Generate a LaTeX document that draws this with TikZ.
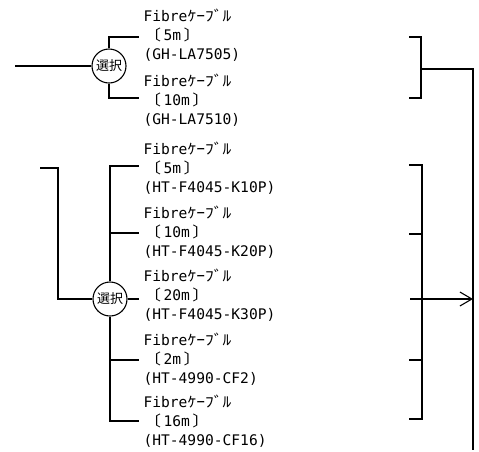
\documentclass[tikz,border=0pt]{standalone}
\usepackage{fontspec}
\setmonofont{DejaVu Sans Mono}
\newfontfamily\jpk[FakeStretch=1.2]{Noto Sans CJK JP}
\newfontfamily\jpsel{Noto Sans CJK JP}
\usetikzlibrary{arrows.meta}
\newcommand\kbl{{\jpk ｹｰﾌﾞﾙ}}
\newcommand\lbr{{\jpk 〔}\hspace{2.5pt}}
\newcommand\rbr{\hspace{2.5pt}{\jpk 〕}}
\begin{document}
\begin{tikzpicture}[x=1pt,y=-1pt,line width=1.1pt,
  txt/.style={anchor=base west,inner sep=0pt,font=\ttfamily\fontsize{14.6}{17}\selectfont},
  sel/.style={circle,draw,minimum size=34pt,inner sep=0pt,font=\jpsel\fontsize{13}{13}\selectfont},
  tip/.style={-{Straight Barb[length=12pt,width=14pt]}}]
\useasboundingbox (0,0) rectangle (479,451);

% ---------- top group ----------
\node[sel] (s1) at (109,66) {選択};
\coordinate (in1) at (15,66);
\coordinate (b1a) at (139,37);
\coordinate (b1b) at (139,98);
\draw (in1) -- (s1.west);
\draw (s1.north) |- (b1a);
\draw (s1.south) |- (b1b);

\node[txt] (t1a1) at (143,21.3) {Fibre\kbl};
\node[txt] (t1a2) at (143,40.3) {\lbr 5m\rbr};
\node[txt] (t1a3) at (143,59.3) {(GH-LA7505)};
\node[txt] (t1b1) at (143,86.3) {Fibre\kbl};
\node[txt] (t1b2) at (143,105.3) {\lbr 10m\rbr};
\node[txt] (t1b3) at (143,124.3) {(GH-LA7510)};

% ---------- bottom group ----------
\node[sel] (s2) at (110,299) {選択};
\coordinate (in2) at (40,168);
\coordinate (cn2) at (58,168);
\draw (in2) -- (cn2) |- (s2.west);
\coordinate (b2a) at (139,166);
\coordinate (b2b) at (139,233);
\coordinate (b2c) at (139,299);
\coordinate (b2d) at (139,360);
\coordinate (b2e) at (139,421);
\coordinate (tr2a) at (110,166);
\coordinate (tr2b) at (110,233);
\coordinate (tr2d) at (110,360);
\coordinate (tr2e) at (110,421);
\draw (s2.north) -- (tr2a) -- (b2a);
\draw (tr2b) -- (b2b);
\draw (s2.east) -- (b2c);
\draw (s2.south) -- (tr2e) -- (b2e);
\draw (tr2d) -- (b2d);

\node[txt] (t2a1) at (143,154.3) {Fibre\kbl};
\node[txt] (t2a2) at (143,173.3) {\lbr 5m\rbr};
\node[txt] (t2a3) at (143,192.3) {(HT-F4045-K10P)};
\node[txt] (t2b1) at (143,218.3) {Fibre\kbl};
\node[txt] (t2b2) at (143,237.3) {\lbr 10m\rbr};
\node[txt] (t2b3) at (143,256.3) {(HT-F4045-K20P)};
\node[txt] (t2c1) at (143,281.3) {Fibre\kbl};
\node[txt] (t2c2) at (143,300.3) {\lbr 20m\rbr};
\node[txt] (t2c3) at (143,319.3) {(HT-F4045-K30P)};
\node[txt] (t2d1) at (143,345.3) {Fibre\kbl};
\node[txt] (t2d2) at (143,364.3) {\lbr 2m\rbr};
\node[txt] (t2d3) at (143,383.3) {(HT-4990-CF2)};
\node[txt] (t2e1) at (143,407.3) {Fibre\kbl};
\node[txt] (t2e2) at (143,426.3) {\lbr 16m\rbr};
\node[txt] (t2e3) at (143,445.3) {(HT-4990-CF16)};

% ---------- right brackets ----------
\coordinate (k1a) at (409,37);
\coordinate (v1a) at (421,37);
\coordinate (v1b) at (421,98);
\coordinate (k1b) at (409,98);
\coordinate (o1) at (421,69);
\coordinate (r1) at (473,69);
\coordinate (r2) at (473,450);
\draw (k1a) -- (v1a) -- (v1b) -- (k1b);
\draw (o1) -- (r1) -- (r2);

\coordinate (k2a) at (409,165);
\coordinate (v2a) at (422,165);
\coordinate (v2e) at (422,419);
\coordinate (k2e) at (409,419);
\coordinate (k2b) at (409,234);
\coordinate (v2b) at (422,234);
\coordinate (k2d) at (409,360);
\coordinate (v2d) at (422,360);
\coordinate (k2c) at (410,299);
\coordinate (a2) at (473,299);
\draw (k2a) -- (v2a) -- (v2e) -- (k2e);
\draw (k2b) -- (v2b);
\draw (k2d) -- (v2d);
\draw[tip] (k2c) -- (a2);
\end{tikzpicture}
\end{document}
